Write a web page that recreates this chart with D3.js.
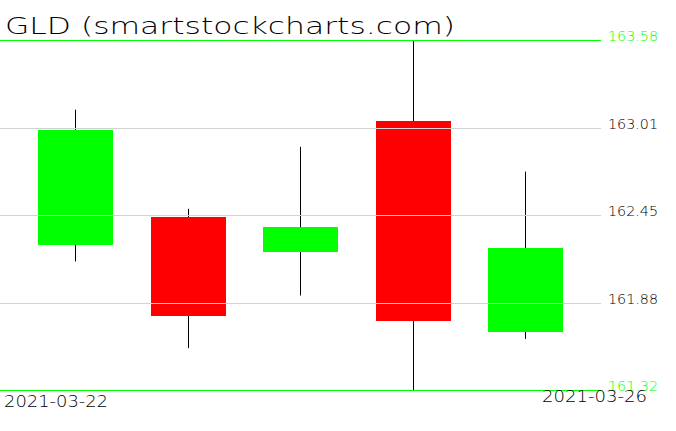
<!DOCTYPE html>
<html><head><meta charset="utf-8">
<script src="https://cdn.jsdelivr.net/npm/d3@7"></script>
<style>html,body{margin:0;padding:0;background:#fff;overflow:hidden}</style>
</head><body>
<svg id="c" width="676" height="431"></svg>
<script>
const dates = ["2021-03-22","2021-03-23","2021-03-24","2021-03-25","2021-03-26"];
const opens  = [162.26, 162.44, 162.21, 163.06, 161.70];
const highs  = [163.13, 162.49, 162.89, 163.58, 162.73];
const lows   = [162.15, 161.59, 161.93, 161.32, 161.65];
const closes = [163.00, 161.80, 162.37, 161.77, 162.24];
const tickValues = [161.32, 161.88, 162.45, 163.01, 163.58];
const tickLabels = ["161.32","161.88","162.45","163.01","163.58"];
const dateLabels = ["2021-03-22","2021-03-26"];

const svg = d3.select("#c");
const x = d3.scalePoint().domain(dates).range([0, 600]).padding(2/3);
const y = d3.scaleLinear().domain([161.32, 163.58]).range([390, 40]);
const bw = x.step() * 2/3;
const data = dates.map((d,i)=>({d, o:opens[i], h:highs[i], l:lows[i], c:closes[i]}));
const font = "DejaVu Sans, sans-serif";

// wicks
svg.append("g").selectAll("line").data(data).join("line")
  .attr("x1", d=>Math.round(x(d.d))+0.5).attr("x2", d=>Math.round(x(d.d))+0.5)
  .attr("y1", d=>y(d.h)).attr("y2", d=>y(d.l))
  .attr("stroke","#000").attr("stroke-width",1);
// bodies
svg.append("g").selectAll("rect").data(data).join("rect")
  .attr("x", d=>Math.round(x(d.d) - bw/2 + 0.5))
  .attr("width", Math.round(bw))
  .attr("y", d=>Math.round(y(Math.max(d.o,d.c))))
  .attr("height", d=>Math.round(Math.abs(y(d.o)-y(d.c))))
  .attr("fill", d=>d.c>=d.o ? "#00ff00" : "#ff0000");

// gridlines
const ends = [tickValues[0], tickValues[tickValues.length-1]];
svg.append("g").selectAll("line").data(tickValues).join("line")
  .attr("x1",0).attr("x2",601)
  .attr("y1", v=>Math.round(y(v))+0.5).attr("y2", v=>Math.round(y(v))+0.5)
  .attr("stroke", v=>ends.includes(v) ? "#00ff00" : "#d3d3d3")
  .attr("stroke-width",1);

// tick labels
svg.append("g").selectAll("text").data(tickValues).join("text")
  .attr("x",608).attr("y", v=>Math.round(y(v))+1)
  .attr("font-family",font).attr("font-weight",200)
  .attr("font-size",14.5)
  .attr("textLength",50).attr("lengthAdjust","spacingAndGlyphs")
  .attr("fill", v=>ends.includes(v) ? "#00ff00" : "#000")
  .text((v,i)=>tickLabels[i]);

// date labels
svg.append("text").attr("x",4).attr("y",407)
  .attr("font-family",font).attr("font-weight",200)
  .attr("font-size",16).attr("textLength",104).attr("lengthAdjust","spacingAndGlyphs")
  .attr("fill","#000").text(dateLabels[0]);
svg.append("text").attr("x",542).attr("y",402)
  .attr("font-family",font).attr("font-weight",200)
  .attr("font-size",16).attr("textLength",105).attr("lengthAdjust","spacingAndGlyphs")
  .attr("fill","#000").text(dateLabels[1]);

// title
svg.append("text").attr("x",5).attr("y",34)
  .attr("font-family",font).attr("font-weight",200)
  .attr("font-size",23).attr("textLength",450).attr("lengthAdjust","spacingAndGlyphs")
  .attr("fill","#000").text("GLD (smartstockcharts.com)");
</script>
</body></html>
